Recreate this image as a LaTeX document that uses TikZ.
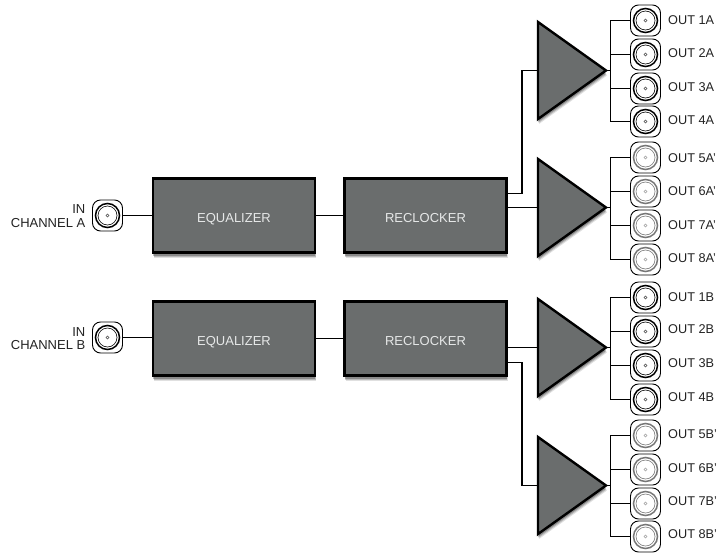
\documentclass[tikz,border=0pt]{standalone}
\usepackage{fontspec}
\setmainfont{Liberation Sans}
\usetikzlibrary{shapes.geometric,shadows}
\definecolor{bodygrey}{HTML}{6A6D6D}
\definecolor{lighttext}{HTML}{E6E8E8}
\definecolor{ringgrey}{HTML}{777777}
\definecolor{labeltext}{HTML}{222222}
\tikzset{
  softshadow/.style={
    drop shadow={shadow xshift=1pt,shadow yshift=-5pt,opacity=.12,fill=black},
    drop shadow={shadow xshift=.5pt,shadow yshift=-4pt,opacity=.18,fill=black},
    drop shadow={shadow xshift=0pt,shadow yshift=-3pt,opacity=.25,fill=black}},
  procbox/.style={draw=black,line width=2.2pt,fill=bodygrey,text=lighttext,minimum width=162pt,minimum height=74pt,inner sep=0pt,outer sep=0pt,font=\fontsize{13}{14}\selectfont,softshadow},
  amp/.style={isosceles triangle,isosceles triangle stretches,shape border rotate=0,draw=black,line width=2.4pt,fill=bodygrey,minimum width=97pt,minimum height=68pt,inner sep=0pt,outer sep=0pt,anchor=apex,softshadow},
  bncbox/.style={draw=black,line width=.9pt,fill=white,rounded corners=8pt,minimum width=30pt,minimum height=31pt,inner sep=0pt,outer sep=0pt},
  wirethick/.style={line width=1.6pt,black},
  wirethin/.style={line width=1.1pt,black},
  outlabel/.style={anchor=west,inner sep=0pt,text=labeltext,font=\fontsize{12.7}{14}\selectfont},
  inlabel/.style={anchor=east,align=right,inner sep=0pt,text=labeltext,font=\fontsize{13}{14}\selectfont},
}
\newcommand{\boxtext}[1]{\raisebox{-7.3pt}[0pt][0pt]{#1}}
\newcommand{\bncrings}[2]{%
  \draw[#2,line width=1.5pt] (#1.center) circle (12pt);
  \draw[#2,line width=.6pt] (#1.center) circle (9.5pt);
  \draw[#2!70!white,line width=.5pt] (#1.center) circle (1.5pt);
}
\newcommand{\outconn}[6]{%
  \node[bncbox] (#1) at (645.5,#2) {};
  \bncrings{#1}{#3}
  \node[outlabel] (#1l) at (668,#6) {#4};
  \coordinate (#1b) at (610.5,#2);
  \draw[#5] (#1.west) -- (#1b);
}
\begin{document}
\begin{tikzpicture}[x=1pt,y=-1pt]
\useasboundingbox (0,0) rectangle (717,552);
% processing blocks
\node[procbox] (eqa) at (234,215.5) {\boxtext{EQUALIZER}};
\node[procbox] (reca) at (425.5,215.5) {\boxtext{RECLOCKER}};
\node[procbox] (eqb) at (234,338.5) {\boxtext{EQUALIZER}};
\node[procbox] (recb) at (425.5,338.5) {\boxtext{RECLOCKER}};
% amplifiers
\node[amp] (a1) at (606,70.5) {};
\node[amp] (a2) at (606,207.5) {};
\node[amp] (b1) at (606,347.5) {};
\node[amp] (b2) at (606,485.5) {};
% inputs
\node[bncbox] (ina) at (107.5,215.5) {};
\bncrings{ina}{black}
\node[bncbox] (inb) at (107.5,337.5) {};
\bncrings{inb}{black}
\node[inlabel] (inal) at (85.5,216) {IN\\[-.5pt]CHANNEL A};
\node[inlabel] (inbl) at (85.5,338.5) {IN\\[-.5pt]CHANNEL B};
% wires
\draw[wirethick] (ina.east) -- (eqa.west |- ina.east);
\draw[wirethick] (inb.east) -- (eqb.west |- inb.east);
\draw[wirethick] (eqa.east) -- (reca.west);
\draw[wirethick] (eqb.east) -- (recb.west);
\coordinate (ra1) at (507,193.5);
\coordinate (ra1v) at (522,193.5);
\coordinate (rb2) at (507,362.5);
\coordinate (rb2v) at (522,362.5);
\draw[wirethick] (reca.east |- a2.lower side) -- (a2.lower side);
\draw[wirethick] (recb.east |- b1.lower side) -- (b1.lower side);
\draw[wirethin] (ra1) -- (ra1v) |- (a1.lower side);
\draw[wirethin] (rb2) -- (rb2v) |- (b2.lower side);
% outputs
\outconn{o1}{20.5}{black}{OUT 1A}{wirethin}{20}
\outconn{o2}{54.5}{black}{OUT 2A}{wirethick}{53.5}
\outconn{o3}{88.5}{black}{OUT 3A}{wirethick}{87}
\outconn{o4}{121.5}{black}{OUT 4A}{wirethin}{120}
\outconn{o5}{157.5}{ringgrey}{OUT 5A'}{wirethin}{158}
\outconn{o6}{191.5}{ringgrey}{OUT 6A'}{wirethick}{191}
\outconn{o7}{225.5}{ringgrey}{OUT 7A'}{wirethick}{225}
\outconn{o8}{259.5}{ringgrey}{OUT 8A'}{wirethin}{258}
\outconn{o9}{297.5}{black}{OUT 1B}{wirethin}{297}
\outconn{o10}{331.5}{black}{OUT 2B}{wirethick}{329.5}
\outconn{o11}{365.5}{black}{OUT 3B}{wirethick}{363}
\outconn{o12}{399.5}{black}{OUT 4B}{wirethin}{397}
\outconn{o13}{435.5}{ringgrey}{OUT 5B'}{wirethin}{434}
\outconn{o14}{469.5}{ringgrey}{OUT 6B'}{wirethick}{468}
\outconn{o15}{503.5}{ringgrey}{OUT 7B'}{wirethick}{501}
\outconn{o16}{536.5}{ringgrey}{OUT 8B'}{wirethin}{534}
% buses
\draw[wirethin,line cap=rect] (o1b) -- (o4b);
\draw[wirethin,line cap=rect] (o5b) -- (o8b);
\draw[wirethin,line cap=rect] (o9b) -- (o12b);
\draw[wirethin,line cap=rect] (o13b) -- (o16b);
\draw[wirethin] (a1.apex) -- (o1b |- a1.apex);
\draw[wirethin] (a2.apex) -- (o5b |- a2.apex);
\draw[wirethin] (b1.apex) -- (o9b |- b1.apex);
\draw[wirethin] (b2.apex) -- (o13b |- b2.apex);
\end{tikzpicture}
\end{document}
